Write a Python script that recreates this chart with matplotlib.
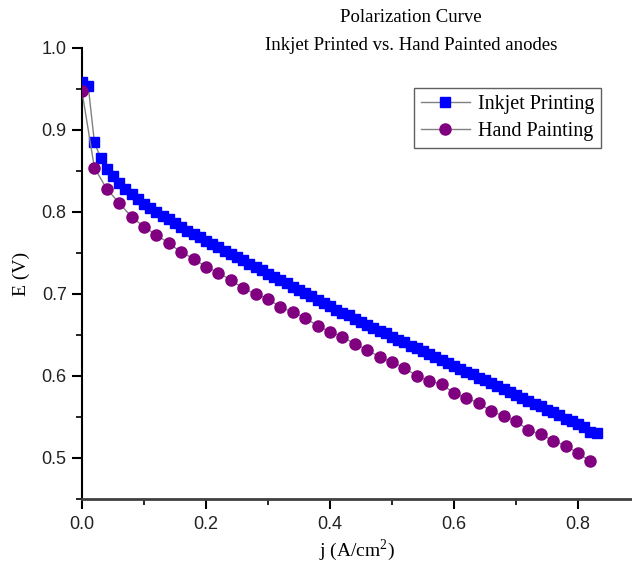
import matplotlib
matplotlib.use("Agg")
from matplotlib import pyplot as plt
from matplotlib.ticker import MultipleLocator

# Inkjet printed anode, one point every 0.01 A/cm2
j_inkjet = [round(0.01 * i, 2) for i in range(84)]
E_inkjet = [0.958, 0.954, 0.885, 0.866, 0.852, 0.844, 0.835, 0.828, 0.822, 0.816,
            0.810, 0.805, 0.800, 0.795, 0.791, 0.786, 0.782, 0.777, 0.773, 0.769,
            0.765, 0.761, 0.757, 0.753, 0.749, 0.745, 0.741, 0.737, 0.733, 0.729,
            0.725, 0.721, 0.717, 0.713, 0.709, 0.705, 0.701, 0.697, 0.693, 0.689,
            0.685, 0.681, 0.677, 0.674, 0.670, 0.666, 0.662, 0.659, 0.655, 0.652,
            0.648, 0.644, 0.641, 0.637, 0.634, 0.630, 0.627, 0.623, 0.619, 0.616,
            0.612, 0.609, 0.605, 0.602, 0.598, 0.595, 0.591, 0.588, 0.584, 0.580,
            0.577, 0.573, 0.570, 0.566, 0.563, 0.559, 0.556, 0.552, 0.548, 0.545,
            0.541, 0.538, 0.532, 0.531]

# Hand painted anode, one point every 0.02 A/cm2
j_hand = [round(0.02 * i, 2) for i in range(42)]
E_hand = [0.947, 0.854, 0.828, 0.811, 0.794, 0.782, 0.772, 0.762, 0.751, 0.743,
          0.733, 0.726, 0.717, 0.707, 0.700, 0.694, 0.684, 0.678, 0.671, 0.661,
          0.654, 0.648, 0.639, 0.632, 0.623, 0.617, 0.610, 0.600, 0.594, 0.590,
          0.579, 0.573, 0.567, 0.557, 0.551, 0.545, 0.534, 0.529, 0.521, 0.515,
          0.506, 0.496]

serif = "Liberation Serif"
sans = "Liberation Sans"
plt.rcParams["mathtext.fontset"] = "custom"
plt.rcParams["mathtext.rm"] = serif

fig = plt.figure(figsize=(6.32, 5.64), dpi=100)
ax = fig.add_axes([82 / 632, 1 - 499 / 564, 1 - 82 / 632, (499 - 48) / 564])

ax.plot(j_inkjet, E_inkjet, color="#808080", lw=1, marker="s", ms=6.5,
        mfc="#0000ff", mec="#0000ff", label="Inkjet Printing", zorder=3)
ax.plot(j_hand, E_hand, color="#808080", lw=1, marker="o", ms=8,
        mfc="#800080", mec="#800080", label="Hand Painting", zorder=3)

ax.set_xlim(0, 550 / 620)
ax.set_ylim(0.45, 1.0)
ax.xaxis.set_minor_locator(MultipleLocator(0.1))
ax.yaxis.set_minor_locator(MultipleLocator(0.05))
ax.set_xticks([0.0, 0.2, 0.4, 0.6, 0.8])
ax.set_xticklabels(["0.0", "0.2", "0.4", "0.6", "0.8"])
ax.set_yticks([0.5, 0.6, 0.7, 0.8, 0.9, 1.0])
ax.set_yticklabels(["0.5", "0.6", "0.7", "0.8", "0.9", "1.0"])

for s in ["top", "right"]:
    ax.spines[s].set_visible(False)
ax.spines["left"].set_linewidth(1.5)
ax.spines["bottom"].set_linewidth(2)
ax.spines["bottom"].set_color("#404040")
ax.tick_params(which="major", direction="out", length=7, width=1.5,
               labelsize=13)
ax.tick_params(axis="x", which="major", pad=5)
ax.tick_params(axis="y", which="major", pad=4)
ax.tick_params(which="minor", direction="out", length=4, width=1.2)
for lab in ax.get_xticklabels() + ax.get_yticklabels():
    lab.set_fontfamily(sans)
    lab.set_color("#222222")

ax.set_xlabel("j (A/cm$^2$)", fontfamily=serif, fontsize=14, labelpad=3)
ax.set_ylabel("E (V)", fontfamily=serif, fontsize=14, labelpad=8)

fig.text(411 / 632, 1 - 18 / 564, "Polarization Curve", fontfamily=serif,
         fontsize=13.5, ha="center", va="center")
fig.text(411 / 632, 1 - 45 / 564, "Inkjet Printed vs. Hand Painted anodes",
         fontfamily=serif, fontsize=13.5, ha="center", va="center")

leg = ax.legend(loc="upper right", bbox_to_anchor=(519 / 550, 1 - 40 / 451),
                prop={"family": serif, "size": 14.5}, fancybox=False,
                edgecolor="#606060", framealpha=1, handlelength=2.4,
                borderpad=0.35, labelspacing=0.4, handletextpad=0.4,
                borderaxespad=0)
leg.get_frame().set_linewidth(1)

fig.savefig("out.png", dpi=100)
